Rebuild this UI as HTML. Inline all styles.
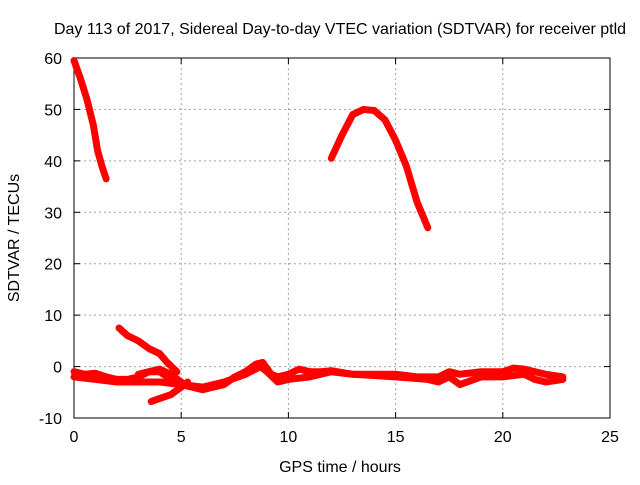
<!DOCTYPE html>
<html><head><meta charset="utf-8"><style>
body{margin:0;background:#fff}
svg text{font-family:"Liberation Sans",sans-serif;font-size:16px;fill:#000}
</style></head><body>
<svg id="chart" width="640" height="480" xmlns="http://www.w3.org/2000/svg">
<rect width="640" height="480" fill="#fff"/>
<text x="340" y="34" text-anchor="middle">Day 113 of 2017, Sidereal Day-to-day VTEC variation (SDTVAR) for receiver ptld</text>
<text x="340" y="472" text-anchor="middle">GPS time / hours</text>
<text transform="translate(19,238) rotate(-90)" text-anchor="middle">SDTVAR / TECUs</text>
<g id="grid"></g><g id="axes"></g><g id="series"></g>
</svg>
<script>
const xTicks=[0,5,10,15,20,25];
const yTicks=[-10,0,10,20,30,40,50,60];
const seriesDrop=[[0,59.5],[0.3,56],[0.6,52],[0.9,47],[1.1,42],[1.3,39],[1.5,36.5]];
const seriesArc=[[12,40.5],[12.5,45],[13,49],[13.5,50],[14,49.8],[14.5,48],[15,44],[15.5,39],[16,32],[16.5,27]];
const seriesFall=[[2.1,7.5],[2.5,6],[3,5],[3.5,3.5],[4,2.5],[4.3,1],[4.8,-1]];
const seriesRise=[[3.6,-6.8],[4,-6.2],[4.5,-5.5],[5,-4],[5.3,-3]];
const seriesBandA=[[0,-1],[0.5,-1.5],[1,-1.3],[1.5,-2],[2,-2.5],[2.5,-2.5],[3,-2],[3.5,-1],[4,-1],[4.5,-2.5],[5,-3.5],[5.5,-4],[6,-4.5],[6.5,-4],[7,-3.5],[7.5,-2],[8,-1],[8.5,0.5],[8.8,0.8],[9.2,-1.5],[9.5,-2],[10,-1.5],[10.5,-0.5],[11,-1],[11.5,-1],[12,-0.8],[13,-1.5],[14,-1.5],[15,-1.5],[16,-2],[17,-2],[17.5,-1],[18,-1.5],[19,-1],[20,-1],[20.5,-0.3],[21,-0.5],[22,-1.5],[22.8,-2]];
const seriesBandB=[[0,-2],[1,-2.5],[2,-3],[3,-3],[4,-3],[5,-3.5],[6,-4],[7,-3],[8,-1.5],[8.7,0],[9,-1],[9.5,-3],[10,-2.5],[11,-2],[12,-1],[13,-1.5],[15,-2],[16.5,-2.5],[17,-3],[17.5,-2],[18,-3.5],[19,-2],[20,-2],[21,-1.5],[21.5,-2.5],[22,-3],[22.8,-2.5]];
const seriesBandC=[[3,-1.5],[3.5,-1],[4,-0.5],[4.5,-1.5],[5,-3]];
const allSeries=[seriesDrop,seriesArc,seriesFall,seriesRise,seriesBandA,seriesBandB,seriesBandC];
const names=['series-drop','series-arc','series-fall','series-rise','series-band-a','series-band-b','series-band-c'];
const X0=74,X1=610,Y0=418,Y1=58;
const sx=v=>X0+(v-0)/(25-0)*(X1-X0);
const sy=v=>Y0-(v+10)/(70)*(Y0-Y1);
const NS='http://www.w3.org/2000/svg';
function mk(t,a,p){const e=document.createElementNS(NS,t);for(const k in a)e.setAttribute(k,a[k]);p.appendChild(e);return e;}
const grid=document.getElementById('grid'),axes=document.getElementById('axes'),ser=document.getElementById('series');
xTicks.forEach(t=>{const x=sx(t);
 if(t>0&&t<25){const l=mk('line',{x1:x,x2:x,y1:Y1,y2:Y0,stroke:'#a0a0a0','stroke-dasharray':'2,3'},grid);}
 mk('line',{x1:x,x2:x,y1:Y0,y2:Y0-6,stroke:'#000'},axes);mk('line',{x1:x,x2:x,y1:Y1,y2:Y1+6,stroke:'#000'},axes);
 const tx=mk('text',{x:x,y:Y0+24,'text-anchor':'middle'},axes);tx.textContent=t;
 });
yTicks.forEach(t=>{const y=sy(t);
 if(t>-10&&t<60){const l=mk('line',{x1:X0,x2:X1,y1:y,y2:y,stroke:'#a0a0a0','stroke-dasharray':'2,3'},grid);}
 mk('line',{x1:X0,x2:X0+6,y1:y,y2:y,stroke:'#000'},axes);mk('line',{x1:X1,x2:X1-6,y1:y,y2:y,stroke:'#000'},axes);
 const tx=mk('text',{x:62,y:y+6,'text-anchor':'end'},axes);tx.textContent=t;
 });
const fr=mk('rect',{x:X0,y:Y1,width:X1-X0,height:Y0-Y1,fill:'none',stroke:'#000'},axes);

allSeries.forEach((s,i)=>{const p=mk('polyline',{points:s.map(d=>sx(d[0])+','+sy(d[1])).join(' '),fill:'none',stroke:'#f00','stroke-width':7,'stroke-linejoin':'round','stroke-linecap':'round'},ser);
 
 });
</script>
</body></html>
